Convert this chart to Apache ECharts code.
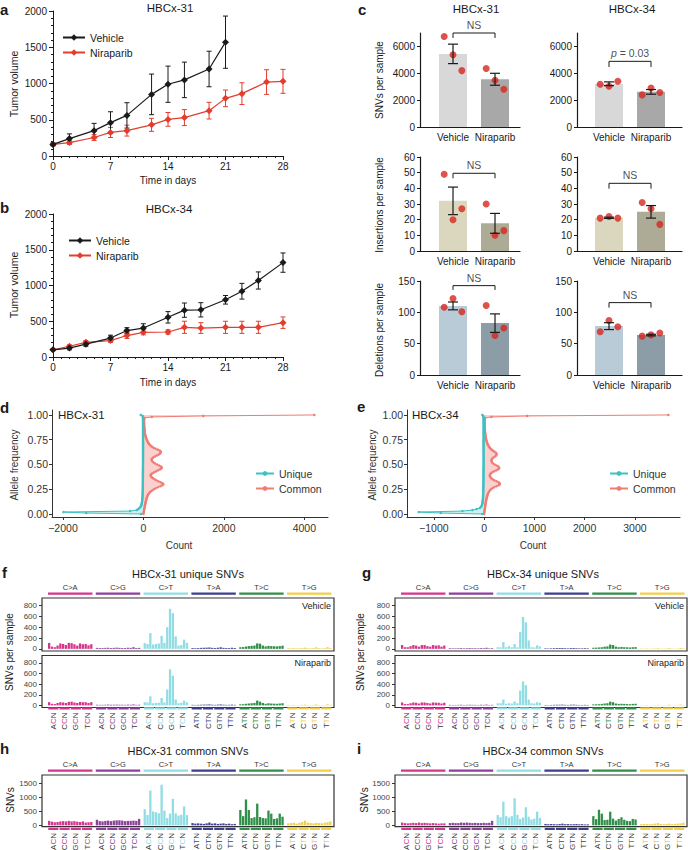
<!DOCTYPE html>
<html><head><meta charset="utf-8">
<script src="https://cdn.jsdelivr.net/npm/echarts@6/dist/echarts.min.js"></script>
<style>html,body{margin:0;padding:0;background:#fff}#c{width:688px;height:850px}</style>
</head><body><div id="c"></div>
<script>
// ---------------- DATA ----------------
// a: HBCx-31 tumour growth
const aVehDays = [0,2,5,7,9,12,14,16,19,21];
const aVehMean = [160,240,350,460,560,850,990,1050,1200,1570];
const aVehErr  = [20,65,100,150,175,280,250,245,245,360];
const aNirDays = [0,2,5,7,9,12,14,16,19,21,23,26,28];
const aNirMean = [160,185,255,325,350,430,505,530,625,795,860,1020,1030];
const aNirErr  = [15,25,40,70,75,90,95,110,115,115,150,170,165];
// b: HBCx-34 tumour growth
const bDays    = [0,2,4,7,9,11,14,16,18,21,23,25,28];
const bVehMean = [100,125,180,265,370,405,555,655,660,800,920,1070,1320];
const bVehErr  = [10,25,30,40,40,60,80,100,100,60,110,120,135];
const bNirMean = [100,150,205,230,300,345,350,415,405,415,415,415,480];
const bNirErr  = [10,20,25,25,40,35,30,85,75,85,85,85,80];
const dayTicks = [0,7,14,21,28];
// c: mutation counts per sample (Vehicle, Niraparib)
const cCats = ['Vehicle','Niraparib'];
const snv31Mean = [5430,3550], snv31Lo = [4720,3110], snv31Hi = [6170,4000];
const snv31Dots = [[6740,5380,4200],[4350,3480,2810]];
const snv34Mean = [3210,2620], snv34Lo = [3080,2440], snv34Hi = [3360,2790];
const snv34Dots = [[3180,3040,3410],[2390,2910,2570]];
const ins31Mean = [32,17.7], ins31Lo = [23.2,11.3], ins31Hi = [40.8,24];
const ins31Dots = [[49,20,27],[30,10,13]];
const ins34Mean = [21.2,25], ins34Lo = [20.8,21], ins34Hi = [21.6,29];
const ins34Dots = [[21,22,21],[31,27,17]];
const del31Mean = [110,83], del31Lo = [104,68], del31Hi = [116.5,97.5];
const del31Dots = [[108,122,101],[111,63,75]];
const del34Mean = [78,64], del34Lo = [72.5,62.5], del34Hi = [83.5,65];
const del34Dots = [[69,87,77],[62,64,67]];
// d/e: counts per allele-frequency bin 0.00..1.00 (unique drawn negative)
const dUnique = [-60,-1424,-1988,-330,-165,-130,-100,-82,-60,-50,
 -45,-40,-36,-33,-30,-28,-26,-24,-22,-21, -20,-19,-18,-18,-17,-17,-16,-16,-16,-15,
 -15,-15,-15,-14,-14,-14,-14,-13,-13,-13, -13,-13,-12,-12,-12,-12,-12,-12,-11,-11,
 -11,-11,-11,-11,-11,-10,-10,-10,-10,-10, -10,-10,-11,-10,-10,-10,-10,-9,-10,-10,
 -10,-10,-9,-10,-10,-10,-10,-10,-9,-10, -10,-10,-10,-9,-10,-10,-10,-10,-10,-10,
 -10,-10,-10,-10,-10,-10,-11,-12,-14,-20, -65];
const dCommon = [0,4,8,12,15,20,26,30,34,40, 45,50,56,62,68,74,80,88,98,110,
 122,140,160,188,222,262,305,362,420,468, 497,478,430,372,320,280,242,212,190,178,
 186,218,262,310,362,410,445,457,440,392, 340,292,252,226,210,205,214,240,282,330,
 380,414,430,432,408,360,302,252,212,180, 156,136,120,106,95,85,76,66,58,51,
 45,40,35,32,30,28,26,24,22,20, 18,17,16,15,15,16,18,24,208,1488, 4249];
const eUnique = [-40,-862,-1300,-430,-231,-150,-86,-66,-52,-44,
 -38,-34,-30,-28,-26,-24,-22,-21,-20,-19, -18,-17,-17,-16,-16,-15,-15,-15,-14,-14,
 -14,-13,-13,-13,-13,-12,-12,-12,-12,-12, -11,-11,-11,-11,-11,-11,-10,-10,-10,-10,
 -10,-10,-10,-10,-10,-10,-10,-9,-10,-10, -10,-10,-10,-10,-9,-10,-10,-10,-10,-10,
 -10,-9,-10,-10,-10,-10,-10,-9,-10,-10, -9,-10,-10,-10,-9,-9,-10,-10,-9,-9,
 -9,-9,-9,-9,-9,-10,-10,-11,-13,-18, -35];
const eCommon = [0,3,5,8,10,13,16,19,22,25, 28,31,34,38,42,46,50,55,60,66,
 72,80,90,102,118,138,165,200,245,290, 310,313,290,250,205,170,145,128,118,114,
 118,132,158,195,240,278,297,300,285,250, 210,180,160,150,147,150,162,185,215,240,
 246,247,232,205,175,150,130,112,98,86, 76,67,60,54,48,43,39,35,32,29,
 26,24,22,20,18,16,15,14,13,12, 11,11,10,10,10,11,13,20,147,857, 3665];
// f-i: trinucleotide spectra, 6 mutation types x 16 contexts
const mutTypes = ['C>A','C>G','C>T','T>A','T>C','T>G'];
const ctxC = ['ACN','CCN','GCN','TCN'];
const ctxT = ['ATN','CTN','GTN','TTN'];
const fVehicle = [
 [110,40,30,60,100,90,70,110,105,85,60,100,85,90,65,85],
 [18,15,15,18,20,15,18,22,18,16,15,20,18,30,15,18],
 [105,90,290,80,90,100,240,110,400,740,660,230,60,70,170,110],
 [15,12,14,18,20,22,25,18,15,20,28,18,15,14,20,16],
 [30,32,42,50,55,60,100,95,60,45,55,50,48,45,50,58],
 [12,10,14,10,12,15,22,12,10,14,28,12,10,12,30,14]];
const fNiraparib = [
 [60,30,25,45,60,55,45,65,70,55,45,65,60,60,45,60],
 [12,10,10,12,15,12,12,14,12,12,10,14,12,18,10,12],
 [60,55,170,40,45,50,140,55,300,680,560,110,40,50,90,60],
 [10,8,10,12,14,15,18,12,10,14,18,12,10,10,14,10],
 [20,22,30,35,40,45,90,70,45,30,40,35,32,30,35,40],
 [8,6,10,6,8,10,15,8,6,10,18,8,6,8,20,10]];
const gVehicle = [
 [70,30,30,50,70,60,40,70,70,50,40,70,60,65,40,60],
 [12,10,10,12,14,10,12,15,12,12,10,14,12,20,10,12],
 [30,28,125,30,50,30,90,28,310,590,490,155,30,25,65,45],
 [10,8,10,12,14,15,16,12,10,14,16,12,10,10,12,10],
 [20,22,25,30,40,45,80,70,40,30,35,30,28,25,30,32],
 [6,5,8,5,6,8,12,6,5,8,14,6,5,6,16,8]];
const gNiraparib = [
 [55,25,25,40,55,50,35,55,55,45,35,55,50,50,35,50],
 [10,8,8,10,12,8,10,12,10,10,8,12,10,15,8,10],
 [40,40,110,30,40,35,75,40,280,450,380,110,40,35,60,50],
 [8,6,8,10,12,12,14,10,8,12,14,10,8,8,10,8],
 [18,20,22,28,35,40,70,60,35,28,30,28,25,22,28,30],
 [5,4,6,4,5,6,10,5,4,6,12,5,4,5,14,6]];
const hCommon = [
 [160,130,110,120,140,150,140,160,140,150,130,120,140,100,110,120],
 [200,150,140,160,170,150,170,180,180,170,150,160,160,170,160,230],
 [580,370,1250,500,470,430,1460,530,260,420,950,430,350,380,680,370],
 [80,60,70,60,50,70,100,60,70,50,60,70,50,60,40,50],
 [550,330,930,550,260,290,780,300,260,250,530,420,230,250,420,310],
 [70,80,90,60,90,120,170,100,80,70,90,80,70,90,110,140]];
const iCommon = [
 [100,80,70,80,90,80,100,80,90,80,70,80,70,60,70,70],
 [80,90,80,80,100,90,100,90,80,90,80,80,90,80,90,160],
 [370,290,850,330,280,330,970,380,230,280,650,310,210,240,490,270],
 [50,40,45,40,35,45,60,40,45,35,40,45,35,40,30,35],
 [330,220,560,420,190,200,490,240,170,230,290,200,160,150,230,210],
 [40,50,50,40,50,60,80,50,40,50,60,40,50,60,70,90]];
const uniqTicks = [0,200,400,600,800];
const comTicks = [0,500,1000,1500];

// ---------------- STYLE ----------------
const FONT = '"Liberation Sans", Arial, Helvetica, sans-serif';
const INK = '#1a1a1a', GREY = '#333333', RED = '#e23d2d', DOT = '#d7261e';
const mutColors = ['#d6358d','#8c3f9c','#90dde4','#3c3e90','#2f8e47','#f2cf48'];
const grids = [], xAxes = [], yAxes = [], series = [], legends = [], graphics = [];
const plain = v => String(v);

function T(text, x, y, o) {
  o = o || {};
  return {type:'text', x:x, y:y, rotation:o.rot||0, z:100,
    style:{text:text, fontSize:o.size||10, fontFamily:FONT, fontWeight:o.bold?'bold':'normal',
      fontStyle:o.italic?'italic':'normal', fill:o.color||INK, align:o.align||'center', verticalAlign:'middle'}};
}
function errRender(color, cap, lw) {
  return function (p, api) {
    const x = api.value(0);
    const a = api.coord([x, api.value(1)]), b = api.coord([x, api.value(2)]);
    const st = {stroke:color, lineWidth:lw, fill:null};
    return {type:'group', children:[
      {type:'line', shape:{x1:a[0],y1:a[1],x2:b[0],y2:b[1]}, style:st},
      {type:'line', shape:{x1:a[0]-cap,y1:a[1],x2:a[0]+cap,y2:a[1]}, style:st},
      {type:'line', shape:{x1:b[0]-cap,y1:b[1],x2:b[0]+cap,y2:b[1]}, style:st}]};
  };
}
function addGrid(g) { g.outerBoundsMode = 'none'; return grids.push(g) - 1; }

// ---------------- a / b ----------------
function growth(top, height, vDays, vMean, vErr, nDays, nMean, nErr) {
  const gi = addGrid({left:53, top:top, width:230, height:height});
  const xi = xAxes.push({type:'value', gridIndex:gi, min:0, max:28, interval:7, splitLine:{show:false},
    axisLine:{show:true, onZero:false, lineStyle:{color:INK, width:1}}, axisTick:{show:true, length:4, lineStyle:{color:INK}},
    minorTick:{show:true, splitNumber:7, length:2, lineStyle:{color:INK}}, minorSplitLine:{show:false},
    axisLabel:{fontSize:10, color:INK, fontFamily:FONT, margin:5, formatter:plain}}) - 1;
  const yi = yAxes.push({type:'value', gridIndex:gi, min:0, max:2000, interval:500, splitLine:{show:false},
    axisLine:{show:true, onZero:false, lineStyle:{color:INK, width:1}}, axisTick:{show:true, length:4, lineStyle:{color:INK}},
    minorTick:{show:true, splitNumber:5, length:2, lineStyle:{color:INK}}, minorSplitLine:{show:false},
    axisLabel:{fontSize:10, color:INK, fontFamily:FONT, margin:6, formatter:plain}}) - 1;
  series.push({type:'custom', name:'errV', xAxisIndex:xi, yAxisIndex:yi, renderItem:errRender(INK,2.5,1),
    encode:{x:0, y:[1,2]}, data:vDays.map((d,i)=>[d, vMean[i]-vErr[i], vMean[i]+vErr[i]]), z:3});
  series.push({type:'custom', name:'errN', xAxisIndex:xi, yAxisIndex:yi, renderItem:errRender(RED,2.5,1),
    encode:{x:0, y:[1,2]}, data:nDays.map((d,i)=>[d, nMean[i]-nErr[i], nMean[i]+nErr[i]]), z:2});
  series.push({type:'line', name:'Niraparib', xAxisIndex:xi, yAxisIndex:yi, clip:false,
    data:nDays.map((d,i)=>[d, nMean[i]]), symbol:'diamond', symbolSize:7, showAllSymbol:true,
    lineStyle:{color:RED, width:1.2}, itemStyle:{color:RED}, z:4});
  series.push({type:'line', name:'Vehicle', xAxisIndex:xi, yAxisIndex:yi, clip:false,
    data:vDays.map((d,i)=>[d, vMean[i]]), symbol:'diamond', symbolSize:7, showAllSymbol:true,
    lineStyle:{color:INK, width:1.2}, itemStyle:{color:INK}, z:5});
}
growth(11, 145, aVehDays, aVehMean, aVehErr, aNirDays, aNirMean, aNirErr);
growth(214, 143, bDays, bVehMean, bVehErr, bDays, bNirMean, bNirErr);
legends.push({left:57, top:27, orient:'vertical', itemGap:4, itemWidth:22, itemHeight:8, selectedMode:false,
  data:['Vehicle','Niraparib'], textStyle:{fontSize:10.5, color:INK, fontFamily:FONT}});
legends.push({left:63, top:230, orient:'vertical', itemGap:4, itemWidth:22, itemHeight:8, selectedMode:false,
  data:['Vehicle','Niraparib'], textStyle:{fontSize:10.5, color:INK, fontFamily:FONT}});

// ---------------- c ----------------
const jitter = [-0.21, 0, 0.21];
function cPanel(o) {
  const gi = addGrid({left:o.left, top:o.top, width:o.width, height:94});
  const xi = xAxes.push({type:'value', gridIndex:gi, min:o.xmin, max:o.xmin + o.width/42, splitLine:{show:false},
    axisLine:{show:true, onZero:false, lineStyle:{color:INK, width:1.2}}, axisTick:{show:false},
    axisLabel:{customValues:[0,1], formatter:v=>cCats[Math.round(v)], fontSize:10, color:INK, fontFamily:FONT, margin:5}}) - 1;
  const yi = yAxes.push({type:'value', gridIndex:gi, min:0, max:o.ymax, splitLine:{show:false},
    axisLine:{show:true, onZero:false, lineStyle:{color:INK, width:1.2}},
    axisTick:{show:true, customValues:o.ticks, length:3, lineStyle:{color:INK}},
    axisLabel:{customValues:o.ticks, fontSize:10, color:INK, fontFamily:FONT, margin:5, formatter:plain}}) - 1;
  series.push({type:'bar', xAxisIndex:xi, yAxisIndex:yi, barWidth:28,
    data:o.mean.map((m,i)=>({value:[i,m], itemStyle:{color:o.colors[i]}})), z:1});
  const dots = [];
  o.dots.forEach((arr,i)=>arr.forEach((v,j)=>dots.push([i+jitter[j], v])));
  series.push({type:'scatter', xAxisIndex:xi, yAxisIndex:yi, data:dots, symbolSize:7, itemStyle:{color:DOT}, z:3});
  series.push({type:'custom', xAxisIndex:xi, yAxisIndex:yi, renderItem:errRender(INK,5,1.2),
    encode:{x:0, y:[1,2]}, data:o.mean.map((m,i)=>[i, o.lo[i], o.hi[i]]), z:4});
  series.push({type:'line', xAxisIndex:xi, yAxisIndex:yi, clip:false, symbol:'none', silent:true,
    data:[[0,o.br[0]],[0,o.br[1]],[1,o.br[1]],[1,o.br[0]]], lineStyle:{color:INK, width:1}, z:4});
  series.push({type:'scatter', xAxisIndex:xi, yAxisIndex:yi, clip:false, symbolSize:1, silent:true,
    itemStyle:{color:'rgba(0,0,0,0)'}, data:[[0.5, o.br[1]]],
    label:{show:true, position:'top', distance:2, formatter:o.brText, fontSize:10.5, color:INK, fontFamily:FONT,
      rich:{i:{fontStyle:'italic', fontSize:10.5, color:INK, fontFamily:FONT}}}, z:5});
}
const snvCol = ['#d8d8d8','#a8a8a8'], insCol = ['#dbd7bf','#adaa95'], delCol = ['#b8cbd7','#8c9da8'];
cPanel({left:420, top:33, width:100, xmin:-0.786, ymax:7000, ticks:[0,2000,4000,6000], mean:snv31Mean, lo:snv31Lo, hi:snv31Hi, dots:snv31Dots, colors:snvCol, br:[6630,7000], brText:'NS'});
cPanel({left:577, top:33, width:105, xmin:-0.762, ymax:7000, ticks:[0,2000,4000,6000], mean:snv34Mean, lo:snv34Lo, hi:snv34Hi, dots:snv34Dots, colors:snvCol, br:[4470,4890], brText:'{i|p} = 0.03'});
cPanel({left:420, top:157, width:100, xmin:-0.786, ymax:60, ticks:[0,10,20,30,40,50,60], mean:ins31Mean, lo:ins31Lo, hi:ins31Hi, dots:ins31Dots, colors:insCol, br:[46.4,49.6], brText:'NS'});
cPanel({left:577, top:157, width:105, xmin:-0.762, ymax:60, ticks:[0,10,20,30,40,50,60], mean:ins34Mean, lo:ins34Lo, hi:ins34Hi, dots:ins34Dots, colors:insCol, br:[39.8,43.2], brText:'NS'});
cPanel({left:420, top:281, width:100, xmin:-0.786, ymax:150, ticks:[0,50,100,150], mean:del31Mean, lo:del31Lo, hi:del31Hi, dots:del31Dots, colors:delCol, br:[135.8,142.6], brText:'NS'});
cPanel({left:577, top:281, width:105, xmin:-0.762, ymax:150, ticks:[0,50,100,150], mean:del34Mean, lo:del34Lo, hi:del34Hi, dots:del34Dots, colors:delCol, br:[107.5,115.5], brText:'NS'});

// ---------------- d / e ----------------
const afShown = ['0.00','0.25','0.50','0.75','1.00'];
const afCats = [];
for (let i = -3; i <= 105; i++) afCats.push((i/100).toFixed(2));
const afKey = k => (k/100).toFixed(2);
function afPanel(o) {
  const gi = addGrid({left:o.left, top:410, width:o.width, height:107});
  const xi = xAxes.push({type:'value', gridIndex:gi, min:o.xmin, max:o.xmax, splitLine:{show:false},
    axisLine:{show:true, onZero:false, lineStyle:{color:GREY, width:1}},
    axisTick:{show:true, customValues:o.ticks, length:3, lineStyle:{color:GREY}},
    axisLabel:{customValues:o.ticks, formatter:v=>String(v).replace('-','\u2212'), fontSize:10.5, color:GREY, fontFamily:FONT, margin:5}}) - 1;
  const yi = yAxes.push({type:'category', gridIndex:gi, data:afCats, boundaryGap:false,
    axisLine:{show:true, onZero:false, lineStyle:{color:GREY, width:1}},
    axisTick:{show:true, length:3, interval:(i,v)=>afShown.indexOf(v)>=0, lineStyle:{color:GREY}},
    axisLabel:{interval:(i,v)=>afShown.indexOf(v)>=0, fontSize:10.5, color:GREY, fontFamily:FONT, margin:4},
    splitLine:{show:false}}) - 1;
  series.push({type:'line', name:'Unique', xAxisIndex:xi, yAxisIndex:yi, clip:false, showAllSymbol:true,
    data:o.uniq.map((c,k)=>[c, afKey(k)]), symbol:'circle', symbolSize:2.5,
    lineStyle:{color:'#3fc1c3', width:1}, itemStyle:{color:'#3fc1c3'}, areaStyle:{color:'rgba(63,193,195,0.35)'}, z:3});
  series.push({type:'line', name:'Common', xAxisIndex:xi, yAxisIndex:yi, clip:false, showAllSymbol:true,
    data:o.com.map((c,k)=>[c, afKey(k)]), symbol:'circle', symbolSize:2.5,
    lineStyle:{color:'#f07c74', width:1}, itemStyle:{color:'#f07c74'}, areaStyle:{color:'rgba(240,124,116,0.5)'}, z:2});
  legends.push({left:o.legLeft, top:463, orient:'vertical', itemGap:4, itemWidth:18, itemHeight:6, selectedMode:false,
    data:['Unique','Common'], textStyle:{fontSize:10.5, color:GREY, fontFamily:FONT}});
}
afPanel({left:52, width:276, xmin:-2273, xmax:4589, ticks:[-2000,0,2000,4000], uniq:dUnique, com:dCommon, legLeft:250});
afPanel({left:407, width:273, xmin:-1534, xmax:3898, ticks:[-1000,0,1000,2000,3000], uniq:eUnique, com:eCommon, legLeft:604});

// ---------------- f - i ----------------
const SPMIN = -2.53, SPMAX = 101.3, SPW = 292;
const spPos = (g, j) => g*17 + j;
const ctxCenters = [];
mutTypes.forEach((m,g)=>[0,1,2,3].forEach(k=>ctxCenters.push(spPos(g, 4*k+1.5))));
const richCtx = {n:{color:GREY, fontSize:8, fontFamily:FONT}};
mutColors.forEach((c,g)=>{ richCtx['m'+g] = {color:c, fontSize:8, fontFamily:FONT}; });

function hiddenAxes(gi, ymin, ymax) {
  const xi = xAxes.push({type:'value', gridIndex:gi, min:SPMIN, max:SPMAX, show:false}) - 1;
  const yi = yAxes.push({type:'value', gridIndex:gi, min:ymin, max:ymax, show:false}) - 1;
  return [xi, yi];
}
function stripRender(withText) {
  return function (p, api) {
    const g = api.value(2);
    const a = api.coord([api.value(0), 1]), b = api.coord([api.value(1), 0]);
    const ch = [{type:'rect', shape:{x:a[0], y:a[1], width:b[0]-a[0], height:b[1]-a[1]}, style:{fill:mutColors[g]}}];
    if (withText) ch.push({type:'text', x:(a[0]+b[0])/2, y:a[1]-5,
      style:{text:mutTypes[g], fontSize:7.5, fontFamily:FONT, fill:GREY, align:'center', verticalAlign:'middle'}});
    return {type:'group', children:ch};
  };
}
function spHeader(left, top) {
  const gi = addGrid({left:left, top:top, width:SPW, height:2.2});
  const ax = hiddenAxes(gi, 0, 1);
  series.push({type:'custom', xAxisIndex:ax[0], yAxisIndex:ax[1], clip:false, renderItem:stripRender(true),
    data:mutTypes.map((m,g)=>[spPos(g,-0.4), spPos(g,15.4), g])});
}
function spFooter(left, top) {
  const gi = addGrid({left:left, top:top, width:SPW, height:2.2});
  const xi = xAxes.push({type:'value', gridIndex:gi, min:SPMIN, max:SPMAX, splitLine:{show:false},
    axisLine:{show:false, onZero:false}, axisTick:{show:false},
    axisLabel:{customValues:ctxCenters, rotate:90, margin:3, fontSize:8, fontFamily:FONT, color:GREY, rich:richCtx,
      formatter:v=>{ const g = Math.floor((v+0.5)/17); const k = Math.round((v-g*17-1.5)/4);
        const s = (g<3 ? ctxC : ctxT)[k]; return '{n|'+s[0]+'}{m'+g+'|'+s[1]+'}{n|'+s[2]+'}'; }}}) - 1;
  const yi = yAxes.push({type:'value', gridIndex:gi, min:0, max:1, show:false}) - 1;
  const d = [];
  mutTypes.forEach((m,g)=>[0,1,2,3].forEach(k=>d.push([spPos(g,4*k-0.3), spPos(g,4*k+3.3), g])));
  series.push({type:'custom', xAxisIndex:xi, yAxisIndex:yi, clip:false, renderItem:stripRender(false), data:d});
}
function spPanel(left, top, height, vals, ymin, ymax, ticks) {
  const gi = addGrid({left:left, top:top, width:SPW, height:height, show:true, borderColor:GREY, borderWidth:1.2, backgroundColor:'rgba(0,0,0,0)'});
  const xi = xAxes.push({type:'value', gridIndex:gi, min:SPMIN, max:SPMAX, show:false}) - 1;
  const yi = yAxes.push({type:'value', gridIndex:gi, min:ymin, max:ymax, splitLine:{show:false},
    axisLine:{show:false, onZero:false}, axisTick:{show:true, customValues:ticks, length:3, lineStyle:{color:GREY}},
    axisLabel:{customValues:ticks, fontSize:8, color:'#444', fontFamily:FONT, margin:5, formatter:plain}}) - 1;
  const d = [];
  vals.forEach((row,g)=>row.forEach((v,j)=>d.push({value:[spPos(g,j), v], itemStyle:{color:mutColors[g]}})));
  series.push({type:'bar', xAxisIndex:xi, yAxisIndex:yi, barWidth:2.3, data:d});
}
// f
spHeader(42, 592.5); spPanel(42, 598, 53, fVehicle, -40, 940, uniqTicks);
spPanel(42, 655.5, 52, fNiraparib, -40, 940, uniqTicks); spFooter(42, 707.3);
// g
spHeader(395, 592.5); spPanel(395, 598, 53, gVehicle, -40, 940, uniqTicks);
spPanel(395, 655.5, 52, gNiraparib, -40, 940, uniqTicks); spFooter(395, 707.3);
// h
spHeader(42, 769.5); spPanel(42, 775, 51.7, hCommon, -50, 1810, comTicks); spFooter(42, 827.8);
// i
spHeader(395, 769.5); spPanel(395, 775, 51.7, iCommon, -50, 1810, comTicks); spFooter(395, 827.8);

// ---------------- TEXT ----------------
const R90 = Math.PI/2;
graphics.push(
  T('a', 0, 9, {size:15, bold:true, align:'left'}),
  T('b', 0, 207, {size:15, bold:true, align:'left'}),
  T('c', 358, 9, {size:15, bold:true, align:'left'}),
  T('d', 0, 407, {size:15, bold:true, align:'left'}),
  T('e', 357, 406, {size:15, bold:true, align:'left'}),
  T('f', 2, 572, {size:15, bold:true, align:'left'}),
  T('g', 362, 572, {size:15, bold:true, align:'left'}),
  T('h', 0, 748, {size:15, bold:true, align:'left'}),
  T('i', 357, 748, {size:15, bold:true, align:'left'}),
  T('HBCx-31', 170, 8, {size:11.5}),
  T('HBCx-34', 169, 209, {size:11.5}),
  T('Time in days', 168, 180, {size:10}),
  T('Time in days', 168, 382, {size:10}),
  T('Tumor volume', 14, 84, {size:10.5, rot:R90}),
  T('Tumor volume', 14, 285, {size:10.5, rot:R90}),
  T('HBCx-31', 476, 9, {size:11.5}),
  T('HBCx-34', 632, 9, {size:11.5}),
  T('SNVs per sample', 379, 80, {size:10, rot:R90}),
  T('Insertions per sample', 379, 205, {size:10, rot:R90}),
  T('Deletions per sample', 379, 330, {size:10, rot:R90}),
  T('HBCx-31', 58, 415, {size:11.5, align:'left'}),
  T('HBCx-34', 412, 415, {size:11.5, align:'left'}),
  T('Allele frequency', 14, 465, {size:10, rot:R90, color:GREY}),
  T('Allele frequency', 372, 465, {size:10, rot:R90, color:GREY}),
  T('Count', 179, 545, {size:10, color:GREY}),
  T('Count', 533, 545, {size:10, color:GREY}),
  T('HBCx-31 unique SNVs', 188, 574, {size:11}),
  T('HBCx-34 unique SNVs', 543, 574, {size:11}),
  T('HBCx-31 common SNVs', 188, 751, {size:11}),
  T('HBCx-34 common SNVs', 543, 751, {size:11}),
  T('SNVs per sample', 9, 652, {size:10, rot:R90}),
  T('SNVs per sample', 360, 652, {size:10, rot:R90}),
  T('SNVs', 10, 800, {size:10, rot:R90}),
  T('SNVs', 364, 800, {size:10, rot:R90}),
  T('Vehicle', 331, 606, {size:9, align:'right'}),
  T('Niraparib', 331, 663, {size:9, align:'right'}),
  T('Vehicle', 684, 606, {size:9, align:'right'}),
  T('Niraparib', 684, 663, {size:9, align:'right'})
);

const chart = echarts.init(document.getElementById('c'), null, {renderer:'svg', width:688, height:850});
chart.setOption({
  animation:false, backgroundColor:'#ffffff', textStyle:{fontFamily:FONT},
  grid:grids, xAxis:xAxes, yAxis:yAxes, series:series, legend:legends,
  graphic:{elements:graphics}
});
</script></body></html>
